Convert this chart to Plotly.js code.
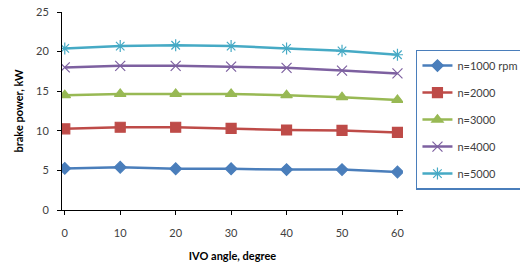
<!DOCTYPE html>
<html><head><meta charset="utf-8">
<script src="https://cdn.plot.ly/plotly-3.0.1.min.js"></script>
<style>body{margin:0;background:#fff}#chart{width:520px;height:267px}</style>
</head><body><div id="chart"></div>
<script>
const angles = [0, 10, 20, 30, 40, 50, 60];
const n1000 = [5.25, 5.4, 5.2, 5.2, 5.1, 5.1, 4.8];
const n2000 = [10.25, 10.45, 10.45, 10.3, 10.1, 10.05, 9.8];
const n3000 = [14.5, 14.65, 14.65, 14.65, 14.5, 14.25, 13.9];
const n4000 = [18.0, 18.2, 18.2, 18.1, 17.95, 17.6, 17.25];
const n5000 = [20.4, 20.7, 20.8, 20.7, 20.4, 20.1, 19.6];
const names = ['n=1000 rpm', 'n=2000', 'n=3000', 'n=4000', 'n=5000'];
const series = [n1000, n2000, n3000, n4000, n5000];
const colors = ['#4A7EBB', '#BE4B48', '#98B954', '#7D60A0', '#46AAC5'];
const symbols = ['diamond', 'square', 'triangle-up', 'x-thin-open', 'asterisk-open'];
const sizes = [9, 10, 10, 10, 10];

const traces = series.map((s, i) => ({
  x: angles, y: s, name: names[i], type: 'scatter', mode: 'lines+markers',
  line: {color: colors[i], width: 2.5},
  marker: {symbol: symbols[i], size: sizes[i], color: colors[i], line: {color: colors[i], width: 1.2}},
  legendgroup: 'g' + i
}));

const font = {family: 'Lato, "Liberation Sans", sans-serif', size: 11, color: '#404040'};
const layout = {
  width: 520, height: 267,
  margin: {l: 62, r: 117, t: 12, b: 57, autoexpand: false},
  paper_bgcolor: '#fff', plot_bgcolor: '#fff',
  font: font,
  showlegend: true,
  legend: {x: 1.038, xanchor: 'left', y: 0.81, yanchor: 'top',
    bordercolor: '#4A7EBB', borderwidth: 1.5, tracegroupgap: 8, itemwidth: 30,
    font: {family: font.family, size: 11, color: '#404040'}},
  xaxis: {range: [-0.5, 61], tickvals: angles, ticks: 'outside', ticklen: 4, tickcolor: '#000',
    showline: true, linecolor: '#000', linewidth: 1, showgrid: false, zeroline: false,
    ticklabelstandoff: 9, automargin: false,
    title: {text: '<b>IVO angle, degree</b>', font: {family: font.family, size: 11, color: '#000'}, standoff: 14}},
  yaxis: {range: [0, 25], dtick: 5, ticks: 'outside', ticklen: 4, tickcolor: '#000',
    showline: true, linecolor: '#000', linewidth: 1, showgrid: false, zeroline: false,
    ticklabelstandoff: 6, automargin: false,
    title: {text: '<b>brake power, kW</b>', font: {family: font.family, size: 11, color: '#000'}, standoff: 10}}
};
Plotly.newPlot('chart', traces, layout, {displayModeBar: false, staticPlot: true});
</script></body></html>
